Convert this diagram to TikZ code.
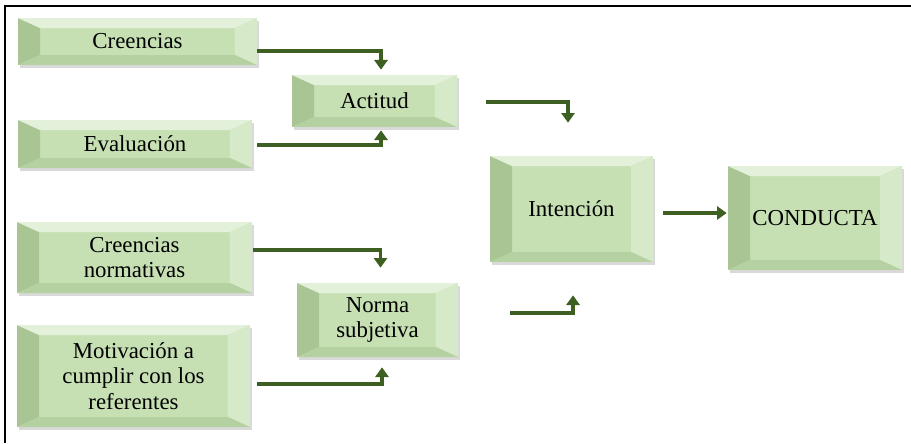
\documentclass[tikz,border=0pt]{standalone}
\usepackage{fontspec}
\setmainfont{Liberation Serif}
\usetikzlibrary{arrows.meta,calc,shadows}

\definecolor{boxgreen}{HTML}{C6E0B4}
\definecolor{bevtop}{HTML}{E3F1DA}
\definecolor{bevright}{HTML}{D6EAC9}
\definecolor{bevleft}{HTML}{A9C594}
\definecolor{bevbottom}{HTML}{B6D1A1}
\definecolor{linkgreen}{HTML}{3D5F22}

\tikzset{
    bevelbox/.style={rectangle, fill=boxgreen, inner sep=2pt, align=center,
        font=\fontsize{13}{14.5}\selectfont,
        drop shadow={shadow xshift=1.2pt, shadow yshift=-1.8pt, opacity=0.3},
        path picture={
            \coordinate (nw) at (path picture bounding box.north west);
            \coordinate (ne) at (path picture bounding box.north east);
            \coordinate (sw) at (path picture bounding box.south west);
            \coordinate (se) at (path picture bounding box.south east);
            \coordinate (inw) at ($(nw)+(0.44cm,-0.2cm)$);
            \coordinate (ine) at ($(ne)+(-0.44cm,-0.2cm)$);
            \coordinate (isw) at ($(sw)+(0.44cm,0.2cm)$);
            \coordinate (ise) at ($(se)+(-0.44cm,0.2cm)$);
            \fill[bevleft] (nw) -- (sw) -- (isw) -- (inw) -- cycle;
            \fill[bevtop] (nw) -- (ne) -- (ine) -- (inw) -- cycle;
            \fill[bevright] (ne) -- (se) -- (ise) -- (ine) -- cycle;
            \fill[bevbottom] (sw) -- (se) -- (ise) -- (isw) -- cycle;
        }},
    link/.style={draw=linkgreen, line width=2.1pt, -{Triangle[length=5.5pt,width=7.5pt]}}
}

\begin{document}
\begin{tikzpicture}[x=0.02cm, y=-0.02cm]
    \useasboundingbox (0,0) rectangle (911,443);
    \draw[line width=1.1pt] (5,443) -- (5,6) -- (911,6);

    % left column
    \node[bevelbox, minimum width=4.78cm, minimum height=0.94cm] (cre) at (137.5,41.5) {Creencias};
    \node[bevelbox, minimum width=4.68cm, minimum height=0.96cm] (eva) at (135,144) {Evaluación};
    \node[bevelbox, minimum width=4.70cm, minimum height=1.42cm] (crn) at (134.5,257.5) {Creencias\\normativas};
    \node[bevelbox, minimum width=4.66cm, minimum height=2.04cm] (mot) at (133.5,376) {Motivación a\\cumplir con los\\referentes};

    % middle
    \node[bevelbox, minimum width=3.30cm, minimum height=1.04cm] (act) at (374.5,101) {Actitud};
    \node[bevelbox, minimum width=3.22cm, minimum height=1.48cm] (nor) at (377.5,320) {Norma\\subjetiva};

    % right
    \node[bevelbox, minimum width=3.26cm, minimum height=2.12cm] (int) at (571.5,209) {Intención};
    \node[bevelbox, minimum width=3.48cm, minimum height=2.08cm] (con) at (815,218) {CONDUCTA};

    \draw[link] ($(cre.east)+(0,9.5)$) -| ($(act.north)+(6.5,-5)$);
    \draw[link] ($(eva.east)+(5,1)$) -| ($(act.south)+(6.5,3)$);
    \draw[link] ($(crn.east)+(1,-7.5)$) -| ($(nor.north)+(3,-15)$);
    \draw[link] ($(mot.east)+(7,8)$) -| ($(nor.south)+(4.5,10)$);
    \draw[link] ($(act.east)+(29,1)$) -| ($(int.north)+(-3.5,-33)$);
    \draw[link] ($(nor.east)+(52,-7)$) -| ($(int.south)+(1.5,33)$);
    \draw[link] ($(int.east)+(10,4)$) -- ($(con.west)+(-1,-5)$);
\end{tikzpicture}
\end{document}
